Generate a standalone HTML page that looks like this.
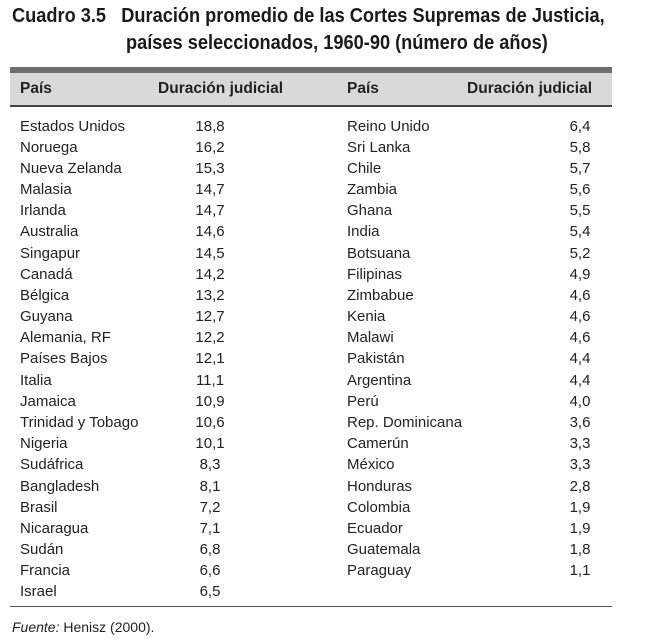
<!DOCTYPE html>
<html><head><meta charset="utf-8"><style>
body{margin:0;width:667px;height:641px;background:#fff;font-family:"Liberation Sans",sans-serif;color:#222;position:relative;overflow:hidden}
.t{position:absolute;font-weight:bold;font-size:20px;white-space:nowrap;transform-origin:0 0;transform:scaleX(0.91);color:#1a1a1a}
.bar{position:absolute;left:10px;width:602px}
.c{position:absolute;font-size:15px;white-space:nowrap;line-height:18px}
.v{text-align:center;width:60px}
.h{font-weight:bold;font-size:16px;transform-origin:0 0;transform:scaleX(0.97)}
</style></head><body>
<div class="t" style="left:12px;top:5px">Cuadro 3.5&nbsp;&nbsp; Duración promedio de las Cortes Supremas de Justicia,</div>
<div class="t" style="left:126px;top:32px">países seleccionados, 1960-90 (número de años)</div>
<div class="bar" style="top:67px;height:6px;background:#6e6e6e"></div>
<div class="bar" style="top:73px;height:32px;background:#d9d9d9"></div>
<div class="bar" style="top:105px;height:2px;background:#444"></div>
<div class="c h" style="left:20px;top:80px">País</div>
<div class="c h" style="left:158px;top:80px">Duración judicial</div>
<div class="c h" style="left:347px;top:80px">País</div>
<div class="c h" style="left:467px;top:80px">Duración judicial</div>
<div id="rows"></div>
<div class="bar" style="top:606px;height:1px;background:#555"></div>
<div class="c" style="left:12px;top:618px;font-size:14px"><i>Fuente:</i> Henisz (2000).</div>
<script>
var L=[["Estados Unidos","18,8"],["Noruega","16,2"],["Nueva Zelanda","15,3"],["Malasia","14,7"],["Irlanda","14,7"],["Australia","14,6"],["Singapur","14,5"],["Canadá","14,2"],["Bélgica","13,2"],["Guyana","12,7"],["Alemania, RF","12,2"],["Países Bajos","12,1"],["Italia","11,1"],["Jamaica","10,9"],["Trinidad y Tobago","10,6"],["Nigeria","10,1"],["Sudáfrica","8,3"],["Bangladesh","8,1"],["Brasil","7,2"],["Nicaragua","7,1"],["Sudán","6,8"],["Francia","6,6"],["Israel","6,5"]];
var R=[["Reino Unido","6,4"],["Sri Lanka","5,8"],["Chile","5,7"],["Zambia","5,6"],["Ghana","5,5"],["India","5,4"],["Botsuana","5,2"],["Filipinas","4,9"],["Zimbabue","4,6"],["Kenia","4,6"],["Malawi","4,6"],["Pakistán","4,4"],["Argentina","4,4"],["Perú","4,0"],["Rep. Dominicana","3,6"],["Camerún","3,3"],["México","3,3"],["Honduras","2,8"],["Colombia","1,9"],["Ecuador","1,9"],["Guatemala","1,8"],["Paraguay","1,1"]];
var h="";
function add(a,x1,x2){a.forEach(function(r,i){var y=117.5+i*21.18;
h+='<div class="c" style="left:'+x1+'px;top:'+y+'px">'+r[0]+'</div><div class="c v" style="left:'+x2+'px;top:'+y+'px">'+r[1]+'</div>';});}
add(L,20,180);add(R,347,550);
document.getElementById("rows").innerHTML=h;
</script>
</body></html>
